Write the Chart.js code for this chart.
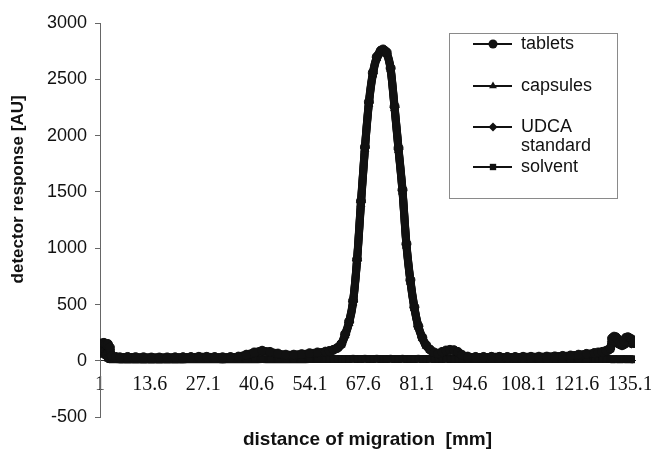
<!DOCTYPE html>
<html>
<head>
<meta charset="utf-8">
<script src="https://cdn.jsdelivr.net/npm/chart.js@4.4.1/dist/chart.umd.min.js"></script>
<style>
  html, body { margin: 0; padding: 0; background: #fff; }
  #wrap { width: 651px; height: 451px; }
</style>
</head>
<body>
<div id="wrap"><canvas id="mycanvas" width="651" height="451"></canvas></div>
<script>
// distance of migration [mm] (x values shared by all series)
var distance = [1, 1.5, 2, 2.5, 3, 3.5, 4, 5, 6,
  8, 10, 12, 14, 16, 18, 20, 22, 24, 26, 28, 30, 32, 34, 36, 38, 40, 42, 44, 46, 48, 50, 52, 54, 56, 58,
  59, 60, 61, 62, 63, 64, 65, 66, 67, 68, 69, 70, 71, 72,
  72.6,
  73.5, 74.5, 75.5, 76.5, 77.5, 78.5, 79.5, 80.5, 81.5, 82.5, 83.5, 84.5, 85.5, 86.5, 87.5, 88.5, 89.5, 90.5, 91.5, 92.5,
  94, 96, 98, 100, 102, 104, 106, 108, 110, 112, 114, 116, 118, 120, 122, 124, 126,
  127, 128, 129, 130,
  130.5, 131, 131.5, 132, 132.5, 133, 133.5, 134, 134.5, 135, 135.5, 136];

// detector response [AU]
var tablets = [120, 155, 160, 150, 150, 120, 45, 35, 32,
  35, 33, 32, 30, 30, 31, 32, 33, 34, 36, 36, 34, 32, 34, 38, 55, 75, 90, 80, 65, 55, 55, 60, 68, 75, 82,
  88, 98, 115, 150, 240, 350, 534, 900, 1420, 1900, 2300, 2560, 2700, 2755,
  2765,
  2740, 2600, 2260, 1890, 1520, 1040, 720, 480, 310, 210, 140, 100, 75, 65, 80, 92, 98, 95, 80, 55,
  38, 35, 35, 36, 36, 35, 35, 36, 36, 37, 38, 40, 44, 48, 55, 62, 70,
  75, 80, 90, 110,
  200, 215, 210, 190, 170, 160, 175, 205, 210, 200, 190, 170];

var capsules = [110, 140, 150, 145, 135, 110, 40, 30, 28,
  30, 30, 28, 27, 27, 28, 29, 30, 31, 33, 33, 31, 30, 31, 35, 50, 70, 85, 76, 60, 50, 50, 56, 64, 70, 78,
  84, 94, 110, 142, 225, 335, 515, 880, 1390, 1880, 2280, 2540, 2685, 2740,
  2750,
  2725, 2585, 2240, 1870, 1500, 1020, 700, 465, 300, 200, 132, 95, 70, 60, 74, 86, 92, 90, 75, 50,
  34, 32, 32, 33, 33, 32, 32, 33, 33, 34, 35, 37, 40, 45, 50, 58, 65,
  70, 75, 84, 100,
  150, 165, 160, 150, 140, 130, 140, 160, 170, 160, 150, 140];

var udcaStandard = [100, 130, 140, 135, 130, 100, 38, 30, 28,
  32, 31, 30, 29, 29, 30, 30, 31, 32, 34, 34, 33, 31, 33, 36, 52, 72, 88, 78, 62, 52, 52, 58, 66, 72, 80,
  86, 96, 112, 146, 232, 342, 525, 890, 1405, 1890, 2290, 2550, 2695, 2750,
  2758,
  2732, 2592, 2250, 1880, 1510, 1030, 710, 472, 305, 205, 136, 98, 72, 62, 77, 89, 95, 92, 78, 52,
  36, 33, 33, 34, 34, 33, 33, 34, 34, 35, 36, 38, 42, 46, 52, 60, 68,
  72, 78, 87, 105,
  175, 190, 185, 170, 150, 145, 160, 185, 190, 180, 170, 155];

var solvent = [60, 90, 80, 50, 25, 15, 14, 14, 13,
  13, 13, 12, 12, 12, 13, 13, 13, 14, 14, 14, 14, 13, 14, 14, 15, 15, 16, 15, 15, 15, 15, 15, 16, 16, 16,
  16, 16, 17, 17, 17, 17, 18, 17, 17, 18, 17, 17, 18, 17,
  17,
  17, 18, 17, 17, 18, 17, 17, 17, 18, 17, 17, 18, 17, 17, 17, 18, 17, 17, 17, 17,
  16, 16, 17, 16, 16, 16, 17, 16, 16, 16, 16, 17, 16, 16, 16, 16, 16,
  16, 16, 16, 16,
  15, 15, 16, 15, 15, 15, 16, 15, 15, 15, 15, 12];

var seriesNames = ['tablets', 'capsules', 'UDCA standard', 'solvent'];
var seriesValues = [tablets, capsules, udcaStandard, solvent];
var markerStyles = ['circle', 'triangle', 'rectRot', 'rect'];

var xTickValues = [1, 13.6, 27.1, 40.6, 54.1, 67.6, 81.1, 94.6, 108.1, 121.6, 135.1];
var xTickLabels = ['1', '13.6', '27.1', '40.6', '54.1', '67.6', '81.1', '94.6', '108.1', '121.6', '135.1'];
var yTickValues = [-500, 0, 500, 1000, 1500, 2000, 2500, 3000];

var sans = '"Liberation Sans", Arial, sans-serif';
var serif = '"Liberation Serif", "Times New Roman", serif';

// legend drawn inside the plot, line + marker + label
var legendBox = {
    id: 'legendBox',
    afterDraw: function(chart)
    {
        var ctx = chart.ctx;
        var rows = [44, 86, 127, 167];
        ctx.save();
        ctx.strokeStyle = '#8a8a8a';
        ctx.lineWidth = 1;
        ctx.strokeRect(449.5, 33.5, 168, 165);
        ctx.font = '18px ' + sans;
        ctx.textBaseline = 'middle';
        ctx.textAlign = 'left';
        chart.data.datasets.forEach(function(ds, i)
        {
            var y = rows[i];
            ctx.strokeStyle = '#111';
            ctx.lineWidth = 2;
            ctx.beginPath();
            ctx.moveTo(473, y);
            ctx.lineTo(512, y);
            ctx.stroke();
            ctx.fillStyle = '#111';
            Chart.helpers.drawPoint(ctx, {pointStyle: ds.pointStyle, radius: 4.5, borderWidth: 0, rotation: 0}, 493, y);

            // wrap long names onto two lines
            var lines = [ds.label];
            if (ctx.measureText(ds.label).width > 90) {
                lines = ds.label.split(' ');
            }
            lines.forEach(function(t, k) {
                ctx.fillText(t, 521, y + k * 19);
            });
        });
        ctx.restore();
    }
};

var datasets = [];
for (var i = 0; i < seriesNames.length; i++)
{
    var pts = [];
    for (var j = 0; j < distance.length; j++) {
        pts.push({x: distance[j], y: seriesValues[i][j]});
    }
    datasets.push({
        label: seriesNames[i],
        data: pts,
        borderColor: '#111',
        backgroundColor: '#111',
        borderWidth: 8,
        cubicInterpolationMode: 'monotone',
        pointStyle: markerStyles[i],
        pointRadius: 4.5,
        pointBorderWidth: 1,
        pointBackgroundColor: '#111',
        pointBorderColor: '#111'
    });
}

var ctx = document.getElementById('mycanvas');

var LineGraph = new Chart(ctx,
{
    type: 'line',
    data: { datasets: datasets },
    plugins: [legendBox],
    options:
    {
        responsive: false,
        animation: false,
        devicePixelRatio: 1,
        layout: { padding: { top: 23, right: 16, bottom: 0, left: 0 } },
        plugins:
        {
            legend: { display: false },
            tooltip: { enabled: false },
            title:
            {
                display: true,
                position: 'bottom',
                fullSize: false,
                text: 'distance of migration  [mm]',
                color: '#111',
                font: { family: sans, size: 19, weight: 'bold' },
                padding: { top: 11, bottom: 0 }
            }
        },
        scales:
        {
            x:
            {
                type: 'linear',
                min: 1,
                max: 136.3,
                position: { y: 0 },
                afterBuildTicks: function(scale) {
                    scale.ticks = xTickValues.map(function(v) { return {value: v}; });
                },
                afterFit: function(scale) {
                    scale.height = 0;
                    scale.paddingRight = 0;
                },
                ticks:
                {
                    autoSkip: false,
                    maxRotation: 0,
                    padding: 12,
                    color: '#111',
                    font: { family: serif, size: 20 },
                    callback: function(value, index) { return xTickLabels[index]; }
                },
                grid: { display: true, drawOnChartArea: false, drawTicks: false },
                border: { display: true, color: '#222', width: 1 }
            },
            y:
            {
                type: 'linear',
                min: -500,
                max: 3000,
                afterBuildTicks: function(scale) {
                    scale.ticks = yTickValues.map(function(v) { return {value: v}; });
                },
                afterFit: function(scale) { scale.width = 100; },
                ticks:
                {
                    padding: 8,
                    color: '#111',
                    font: { family: sans, size: 18 },
                    callback: function(value) { return String(value); }
                },
                grid: { display: true, drawOnChartArea: false, drawTicks: true, tickLength: 5, color: '#666' },
                border: { display: true, color: '#666', width: 1 },
                title:
                {
                    display: true,
                    text: '             detector response [AU]',
                    color: '#111',
                    font: { family: sans, size: 17, weight: 'bold' },
                    padding: { top: 8, bottom: 0 }
                }
            }
        }
    }
});
</script>
</body>
</html>
